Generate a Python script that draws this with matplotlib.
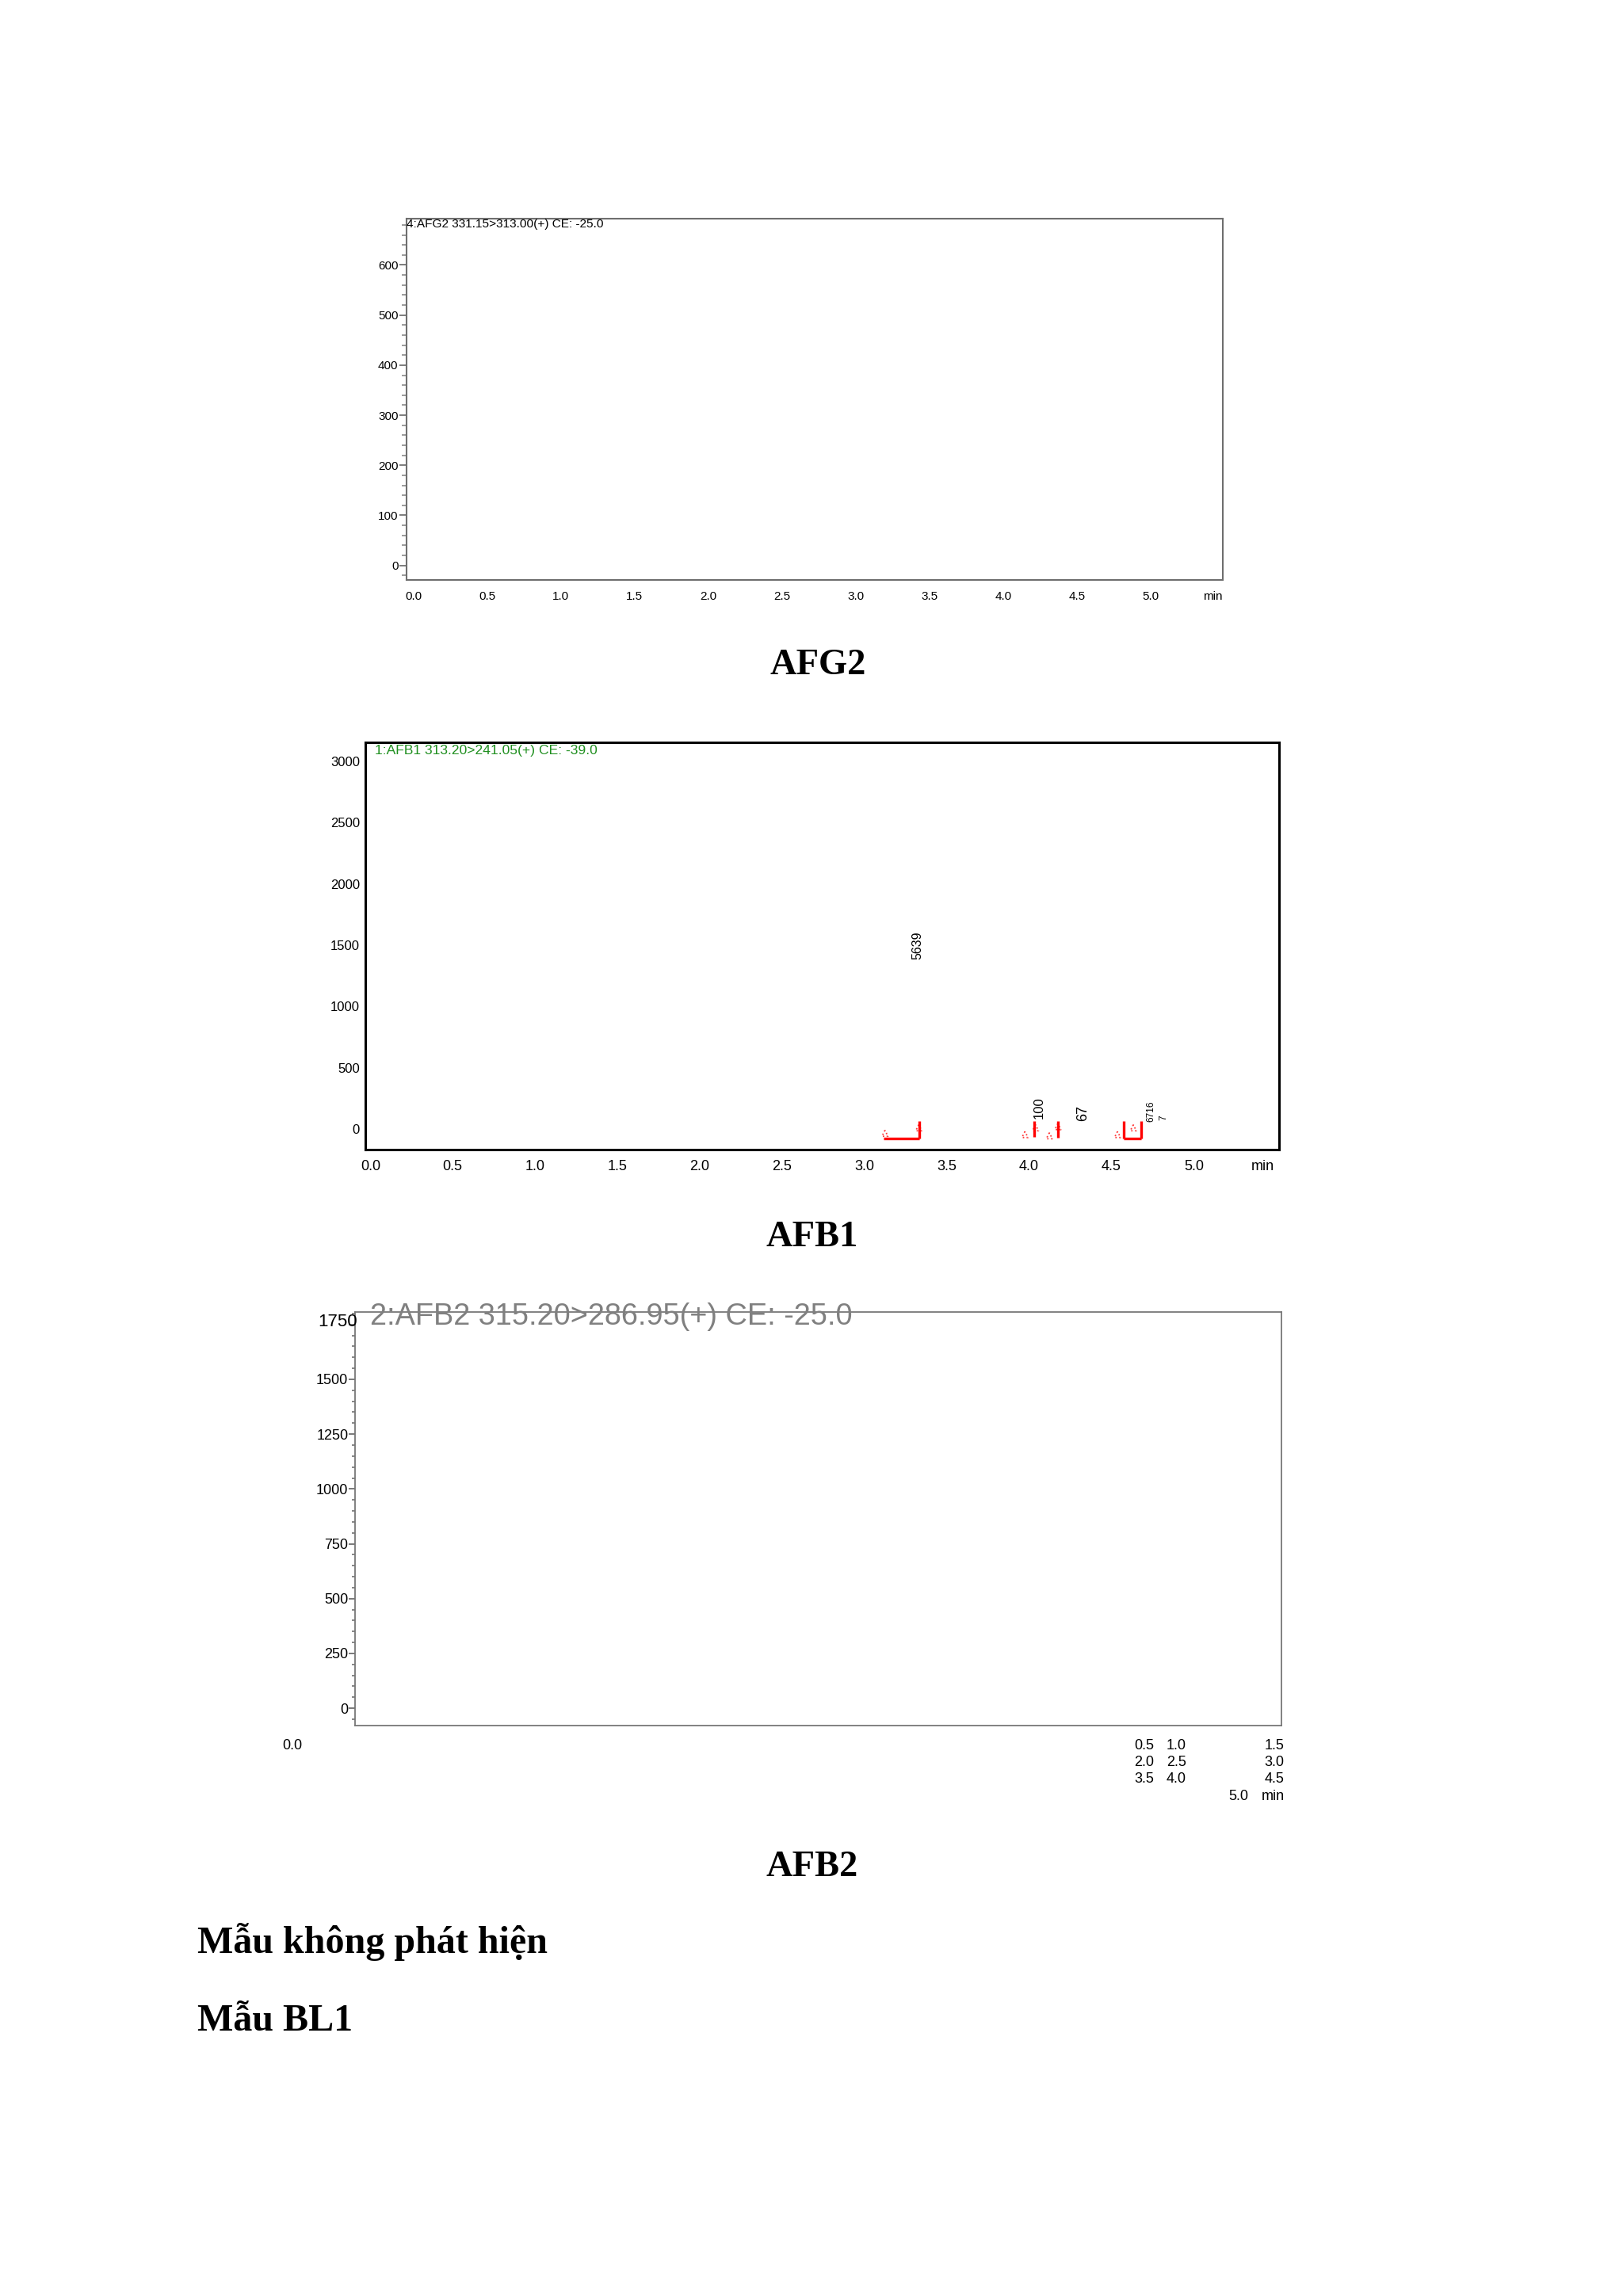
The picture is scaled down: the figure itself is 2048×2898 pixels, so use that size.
import matplotlib
matplotlib.use("Agg")
import matplotlib.pyplot as plt
from matplotlib.ticker import MultipleLocator

plt.rcParams['font.family'] = ['Liberation Sans', 'DejaVu Sans']

# ---------------- data ----------------
time_ticks = [0.0, 0.5, 1.0, 1.5, 2.0, 2.5, 3.0, 3.5, 4.0, 4.5, 5.0]
time_labels = ['0.0', '0.5', '1.0', '1.5', '2.0', '2.5', '3.0', '3.5', '4.0', '4.5', '5.0']

afg2_title = "4:AFG2 331.15>313.00(+) CE: -25.0"
afg2_yticks = [0, 100, 200, 300, 400, 500, 600]
afg2_ylim = (-29, 693)
afg2_xlim = (-0.048, 5.489)

afb1_title = "1:AFB1 313.20>241.05(+) CE: -39.0"
afb1_yticks = [0, 500, 1000, 1500, 2000, 2500, 3000]
afb1_ylim = (-168, 3156)
afb1_xlim = (-0.029, 5.518)
# red integration marks
afb1_bar_x = [3.333, 4.031, 4.175, 4.575, 4.681]
afb1_bar_low = [-78, -65, -70, -78, -78]
afb1_bar_high = [65, 65, 65, 65, 65]
afb1_base_start = [3.117, 4.575]
afb1_base_end = [3.333, 4.681]
afb1_base_y = [-78, -78]
# small pink peak-start / peak-end markers
afb1_mark_x = [3.125, 3.330, 3.975, 4.039, 4.123, 4.175, 4.537, 4.633]
afb1_mark_y = [-35, 10, -45, 10, -55, 20, -45, 10]
# peak annotations
afb1_ann_text = ['5639', '100', '67', '6716', '7']
afb1_ann_x = [3.324, 4.059, 4.326, 4.740, 4.817]
afb1_ann_y = [1500, 172, 129, 147, 95]

afb2_title = "2:AFB2 315.20>286.95(+) CE: -25.0"
afb2_yticks = [0, 250, 500, 750, 1000, 1250, 1500, 1750]
afb2_ylim = (-80, 1808)
afb2_xlim = (0.0, 5.5)
afb2_first_label = '0.0'
afb2_rows = [['0.5', '1.0', '1.5'],
             ['2.0', '2.5', '3.0'],
             ['3.5', '4.0', '4.5']]
afb2_last_row = ['5.0', 'min']

captions = ['AFG2', 'AFB1', 'AFB2']
body_lines = ['Mẫu không phát hiện', 'Mẫu BL1']

# ---------------- layout helpers ----------------
W, H, DPI = 2048, 2898, 100


def fx(px):
    return px / W


def fy(py):
    return 1 - py / H


def rect(l, t, r, b):
    return [l / W, 1 - b / H, (r - l) / W, (b - t) / H]


fig = plt.figure(figsize=(W / DPI, H / DPI), dpi=DPI, facecolor='white')

# ---------------- AFG2 ----------------
ax1 = fig.add_axes(rect(512.7, 275.7, 1542.7, 732))
ax1.set_xlim(*afg2_xlim)
ax1.set_ylim(*afg2_ylim)
for s in ax1.spines.values():
    s.set_color('#6e6e6e')
    s.set_linewidth(1.5)
ax1.set_yticks(afg2_yticks)
ax1.set_yticklabels([str(v) for v in afg2_yticks])
ax1.yaxis.set_minor_locator(MultipleLocator(20))
ax1.tick_params(axis='y', which='major', length=6.8, width=1.2, color='#666666',
                pad=0.5, labelsize=11)
ax1.tick_params(axis='y', which='minor', length=4.3, width=1.2, color='#8a8a8a')
ax1.set_xticks(time_ticks + [5.425])
ax1.set_xticklabels(time_labels + ['min'])
ax1.tick_params(axis='x', which='both', length=0, pad=10.2, labelsize=11)
fig.text(fx(513.3), fy(286.7), afg2_title, fontsize=11.1, va='baseline',
         ha='left', color='black')

# ---------------- AFB1 ----------------
ax2 = fig.add_axes(rect(461.3, 936.7, 1614, 1451))
ax2.set_xlim(*afb1_xlim)
ax2.set_ylim(*afb1_ylim)
for s in ax2.spines.values():
    s.set_color('black')
    s.set_linewidth(2.2)
ax2.set_yticks(afb1_yticks)
ax2.set_yticklabels([str(v) for v in afb1_yticks])
ax2.tick_params(axis='y', length=0, pad=5.3, labelsize=12)
ax2.set_xticks(time_ticks + [5.417])
ax2.set_xticklabels(time_labels + ['min'])
ax2.tick_params(axis='x', length=0, pad=9.4, labelsize=13)
fig.text(fx(473.3), fy(951.7), afb1_title, fontsize=12.6, va='baseline',
         ha='left', color='#1f8f1f')

ax2.hlines(afb1_base_y, afb1_base_start, afb1_base_end, colors='#ff0000',
           linewidth=2.4)
ax2.vlines(afb1_bar_x, afb1_bar_low, afb1_bar_high, colors='#ff0000',
           linewidth=2.4)
ax2.scatter(afb1_mark_x, afb1_mark_y, marker='^', s=30, facecolors='none',
            edgecolors='#ff3b3b', linewidths=1.3, linestyle=':')
ann_sizes = [11.5, 12, 13, 8.5, 8.5]
for t, x, y, fs in zip(afb1_ann_text, afb1_ann_x, afb1_ann_y, ann_sizes):
    ax2.text(x, y, t, rotation=90, ha='center', va='center', fontsize=fs,
             color='black')

# ---------------- AFB2 ----------------
ax3 = fig.add_axes(rect(448.3, 1655.7, 1617.3, 2178.3))
ax3.set_xlim(*afb2_xlim)
ax3.set_ylim(*afb2_ylim)
for s in ax3.spines.values():
    s.set_color('#777777')
    s.set_linewidth(1.3)
ax3.set_yticks(afb2_yticks)
ax3.set_yticklabels([str(v) for v in afb2_yticks[:-1]] + [''])
ax3.yaxis.set_minor_locator(MultipleLocator(50))
ax3.tick_params(axis='y', which='major', length=6.0, width=1.1, color='#555555',
                pad=0.5, labelsize=13)
ax3.tick_params(axis='y', which='minor', length=3.2, width=1.1, color='#666666')
ax3.set_xticks([])
ax3.annotate(str(afb2_yticks[-1]), xy=(0, afb2_yticks[-1]),
             xycoords=('axes fraction', 'data'), xytext=(3, 6),
             textcoords='offset pixels', ha='right', va='center_baseline',
             fontsize=16, color='black', annotation_clip=False)
fig.text(fx(466.7), fy(1671.7), afb2_title, fontsize=27.3, va='baseline',
         ha='left', color='#808080')

# broken x-axis labels under AFB2
row_base = [2208.2, 2229.2, 2250.5]
fig.text(fx(369), fy(row_base[0]), afb2_first_label, fontsize=13,
         ha='center', va='baseline')
for r, row in enumerate(afb2_rows):
    fig.text(fx(1443.3), fy(row_base[r]), row[0], fontsize=13, ha='center', va='baseline')
    fig.text(fx(1484.3), fy(row_base[r]), row[1], fontsize=13, ha='center', va='baseline')
    fig.text(fx(1620.7), fy(row_base[r]), row[2], fontsize=13, ha='right', va='baseline')
fig.text(fx(1562.7), fy(2272.5), afb2_last_row[0], fontsize=13, ha='center', va='baseline')
fig.text(fx(1620.7), fy(2272.5), afb2_last_row[1], fontsize=13, ha='right', va='baseline')

# ---------------- captions & body text ----------------
serif = ['Liberation Serif', 'DejaVu Serif']
cap_pos = [(1032.5, 850.7), (1025, 1572.5), (1025, 2368)]
for c, (cx, cy) in zip(captions, cap_pos):
    fig.text(fx(cx), fy(cy), c, fontsize=33.5, fontweight='bold', family=serif,
             ha='center', va='baseline')
line_pos = [(249.3, 2465), (249.3, 2562.7)]
for t, (lx, ly) in zip(body_lines, line_pos):
    fig.text(fx(lx), fy(ly), t, fontsize=34.6, fontweight='bold', family=serif,
             ha='left', va='baseline')

fig.savefig('out.png', dpi=DPI, facecolor='white')
